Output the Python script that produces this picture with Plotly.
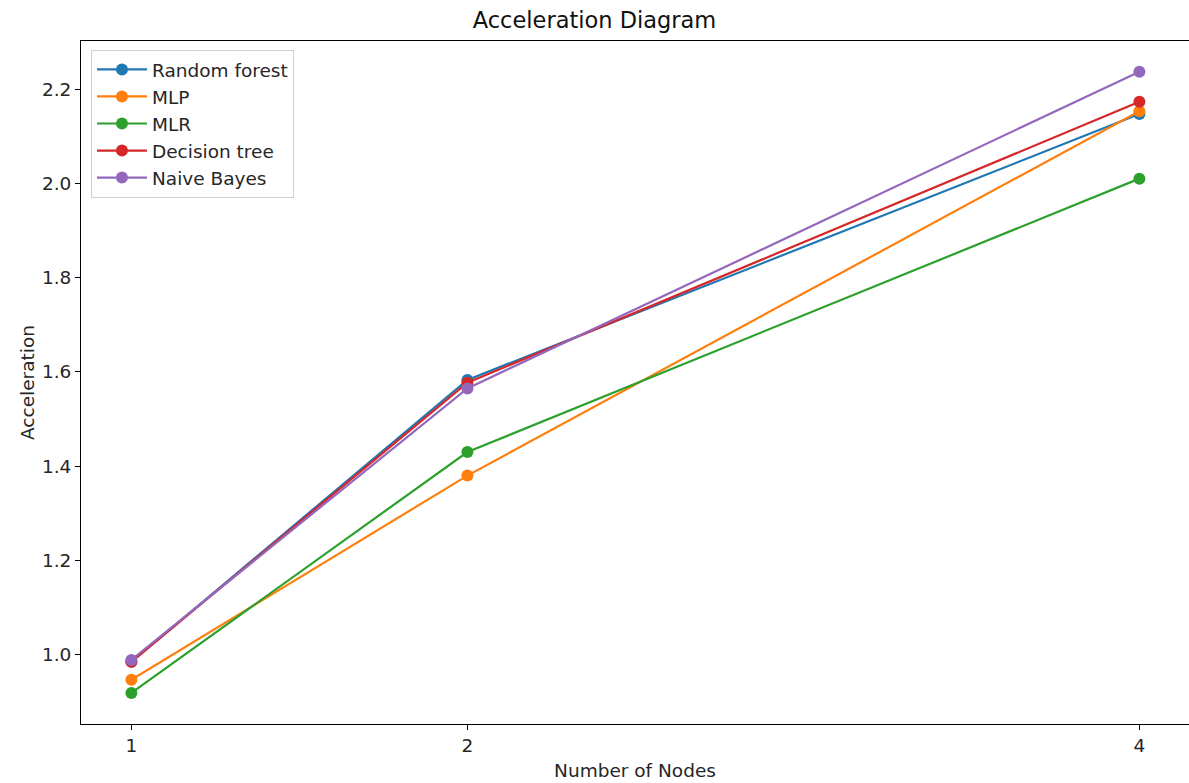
import plotly.graph_objects as go

# Number of nodes used in each run
nodes = [1, 2, 4]

# Acceleration per model
random_forest = [0.985, 1.583, 2.147]
mlp = [0.947, 1.380, 2.153]
mlr = [0.919, 1.430, 2.010]
decision_tree = [0.985, 1.577, 2.173]
naive_bayes = [0.989, 1.565, 2.237]

series = [
    ("Random forest", random_forest, "#1f77b4"),
    ("MLP", mlp, "#ff7f0e"),
    ("MLR", mlr, "#2ca02c"),
    ("Decision tree", decision_tree, "#d62728"),
    ("Naive Bayes", naive_bayes, "#9467bd"),
]

fig = go.Figure()
for name, vals, color in series:
    fig.add_trace(go.Scatter(
        x=nodes, y=vals, name=name, legendgroup=name,
        mode="lines+markers",
        line=dict(color=color, width=2.2),
        marker=dict(color=color, size=12),
    ))

font = "DejaVu Sans, Liberation Sans, sans-serif"
fig.update_layout(
    width=1189, height=783,
    margin=dict(l=81, r=0, t=41, b=59),
    paper_bgcolor="white", plot_bgcolor="white",
    font=dict(family=font, size=18, color="#262626"),
    title=dict(text="Acceleration Diagram", x=0.5, xanchor="center",
               y=1 - 20 / 783, yanchor="middle",
               font=dict(size=22.5, color="#111111")),
    showlegend=True,
    legend=dict(x=0.009, y=0.987, xanchor="left", yanchor="top",
                bgcolor="white", bordercolor="#d0d0d0", borderwidth=1,
                font=dict(size=18.5, color="#262626"),
                itemwidth=50, tracegroupgap=0),
)
fig.update_xaxes(
    range=[0.85, 0.85 + 1108 / 336], tickvals=nodes, ticktext=["1", "2", "4"],
    showgrid=False, zeroline=False, showline=True, mirror=True,
    linecolor="black", linewidth=1, ticks="outside", ticklen=5,
    tickcolor="black", tickfont=dict(size=18.5),
    title=dict(text="Number of Nodes", font=dict(size=18.5), standoff=8),
)
fig.update_yaxes(
    range=[0.853, 2.302], tickvals=[1.0, 1.2, 1.4, 1.6, 1.8, 2.0, 2.2],
    ticktext=["1.0", "1.2", "1.4", "1.6", "1.8", "2.0", "2.2"],
    showgrid=False, zeroline=False, showline=True, mirror=True,
    linecolor="black", linewidth=1, ticks="outside", ticklen=5,
    tickcolor="black", tickfont=dict(size=18.5),
    title=dict(text="Acceleration", font=dict(size=18.5), standoff=2),
)

fig.write_html("out.html")
